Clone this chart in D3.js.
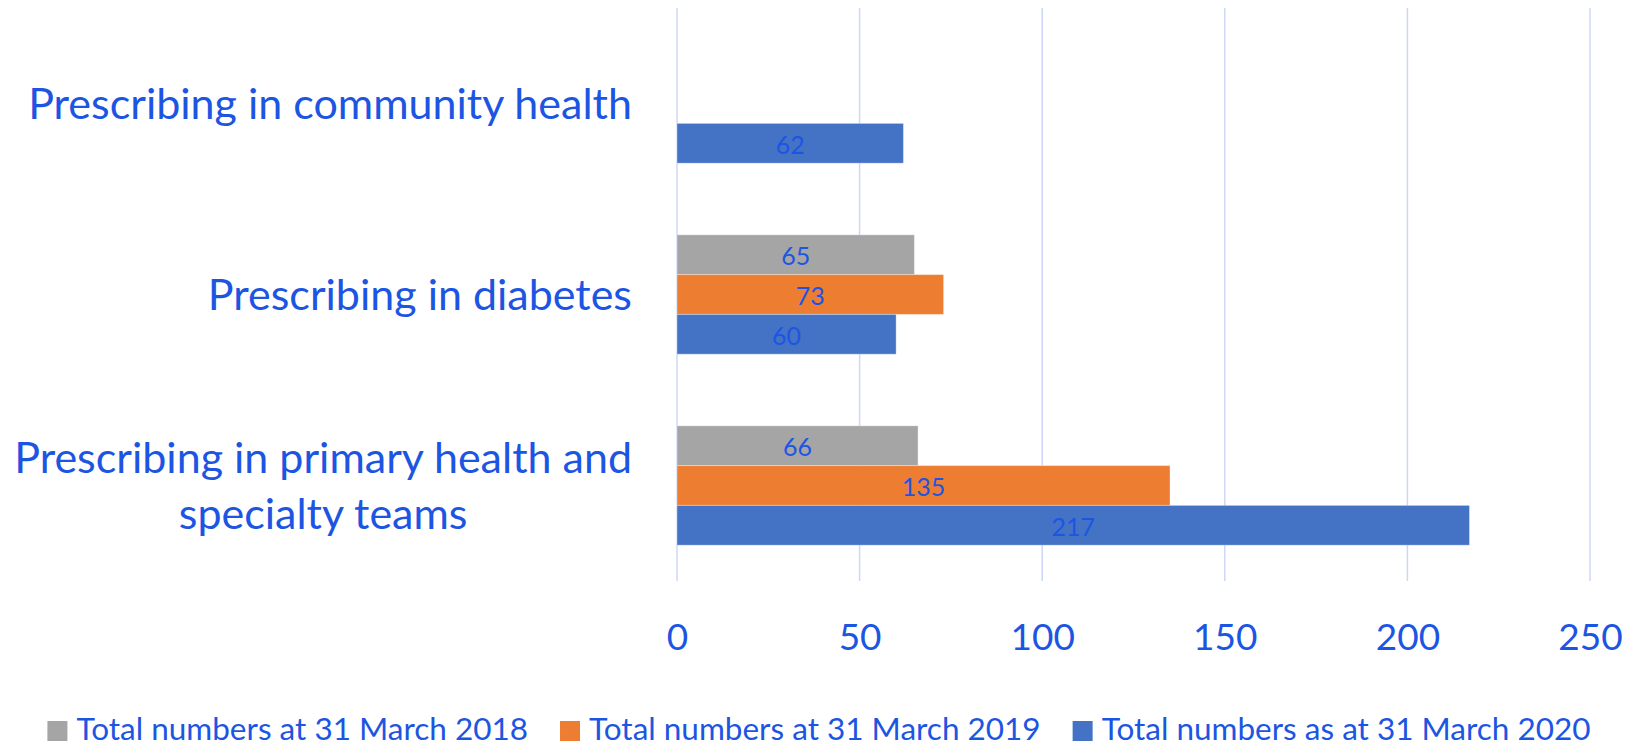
<!DOCTYPE html>
<html>
<head>
<meta charset="utf-8">
<script src="https://cdn.jsdelivr.net/npm/d3@7"></script>
<style>
  body { margin: 0; background: #fff; }
  svg text { font-family: Lato, "Open Sans", sans-serif; fill: #1d55e3; }
</style>
</head>
<body>
<div id="chart"></div>
<script>
// categories, top to bottom (long one is split on two lines like in the original)
const categories = ["Prescribing in community health", "Prescribing in diabetes", "Prescribing in primary health and specialty teams"];
const categoryLines = [["Prescribing in community health"], ["Prescribing in diabetes"], ["Prescribing in primary health and", "specialty teams"]];

const seriesNames = ["Total numbers at 31 March 2018", "Total numbers at 31 March 2019", "Total numbers as at 31 March 2020"];
const values2018 = [null, 65, 66];
const values2019 = [null, 73, 135];
const values2020 = [62, 60, 217];
const xTicks = [0, 50, 100, 150, 200, 250];

const seriesColors = ["#a5a5a5", "#ed7d31", "#4472c4"];

class VisD3 {
    margin = { top: 8, right: 48, bottom: 165, left: 677 };
    size = { width: 1638, height: 746 };
    width;
    height;
    svg;
    matSvg;
    xScale = d3.scaleLinear();
    yGroup = d3.scaleBand();
    ySeries = d3.scaleBand();

    constructor(el) {
        this.el = el;
    }

    create = function () {
        this.width = this.size.width - this.margin.left - this.margin.right;
        this.height = this.size.height - this.margin.top - this.margin.bottom;

        this.xScale.domain([0, 250]).range([0, this.width]);
        this.yGroup.domain(categories).range([0, this.height]).padding(0);
        this.ySeries.domain(seriesNames).range([0, this.yGroup.bandwidth()])
            .paddingInner(0).paddingOuter(0.9);

        this.svg = d3.select(this.el).append("svg")
            .attr("width", this.size.width)
            .attr("height", this.size.height);
        this.matSvg = this.svg.append("g")
            .attr("transform", `translate(${this.margin.left},${this.margin.top})`);

        // vertical gridlines
        this.matSvg.append("g").attr("class", "grid")
            .selectAll("line")
            .data(xTicks)
            .join("line")
            .attr("x1", d => this.xScale(d))
            .attr("x2", d => this.xScale(d))
            .attr("y1", 0)
            .attr("y2", this.height)
            .attr("stroke", "#ccd8f5")
            .attr("stroke-width", 1.5);

        // bottom axis: labels only
        const axis = this.matSvg.append("g")
            .attr("transform", `translate(0,${this.height})`)
            .call(d3.axisBottom(this.xScale).tickValues(xTicks).tickSize(0));
        axis.select(".domain").remove();
        axis.selectAll("text")
            .attr("y", 69)
            .attr("dy", 0)
            .attr("font-size", 37)
            .attr("fill", "#1d55e3")
            .style("font-family", "Lato, 'Open Sans', sans-serif");
    };

    renderVis = function () {
        const seriesValues = [values2018, values2019, values2020];
        const barData = [];
        categories.forEach((c, i) => {
            seriesNames.forEach((s, j) => {
                const v = seriesValues[j][i];
                if (v != null) barData.push({ category: c, series: s, value: v, color: seriesColors[j] });
            });
        });

        const itemG = this.matSvg.selectAll(".itemG")
            .data(barData)
            .join("g")
            .attr("class", "itemG")
            .attr("transform", d => `translate(0,${this.yGroup(d.category) + this.ySeries(d.series)})`);

        itemG.append("rect")
            .attr("x", this.xScale(0))
            .attr("width", d => this.xScale(d.value) - this.xScale(0))
            .attr("height", this.ySeries.bandwidth())
            .attr("fill", d => d.color)
            .attr("stroke", "#fff")
            .attr("stroke-opacity", 0.35)
            .attr("stroke-width", 1);

        itemG.append("text")
            .attr("x", d => this.xScale(d.value / 2))
            .attr("y", this.ySeries.bandwidth() / 2)
            .attr("dy", "0.42em")
            .attr("text-anchor", "middle")
            .attr("font-size", 25)
            .text(d => d.value);

        // category labels, right aligned block, lines centred on each other
        const labelRight = -45;
        const lineH = 56;
        categories.forEach((c, i) => {
            const lines = categoryLines[i];
            const cy = this.yGroup(c) + this.yGroup.bandwidth() / 2;
            const g = this.matSvg.append("g").attr("class", "catLabel");
            const texts = g.selectAll("text")
                .data(lines)
                .join("text")
                .attr("font-size", 43)
                .attr("text-anchor", "middle")
                .attr("y", (d, k) => cy + 15 + (k - (lines.length - 1) / 2) * lineH)
                .text(d => d);
            const maxW = d3.max(texts.nodes(), n => n.getComputedTextLength());
            texts.attr("x", labelRight - maxW / 2);
        });

        this.renderLegend();
    };

    renderLegend = function () {
        const box = 20, gapText = 9, gapItem = 32, baseline = 740;
        const legend = this.svg.append("g").attr("class", "legend");
        const items = legend.selectAll("g")
            .data(seriesNames)
            .join("g");
        items.append("rect")
            .attr("y", baseline - box + 1)
            .attr("width", box)
            .attr("height", box)
            .attr("fill", (d, i) => seriesColors[i]);
        items.append("text")
            .attr("x", box + gapText)
            .attr("y", baseline)
            .attr("font-size", 31.5)
            .text(d => d);

        let offset = 0;
        const widths = [];
        items.each(function () {
            const w = box + gapText + d3.select(this).select("text").node().getComputedTextLength();
            widths.push(w);
        });
        const total = d3.sum(widths) + gapItem * (widths.length - 1);
        const start = this.size.width / 2 - total / 2;
        items.attr("transform", (d, i) => {
            const x = start + offset;
            offset += widths[i] + gapItem;
            return `translate(${x},0)`;
        });
    };
}

const vis = new VisD3(document.getElementById("chart"));
vis.create();
vis.renderVis();
</script>
</body>
</html>
